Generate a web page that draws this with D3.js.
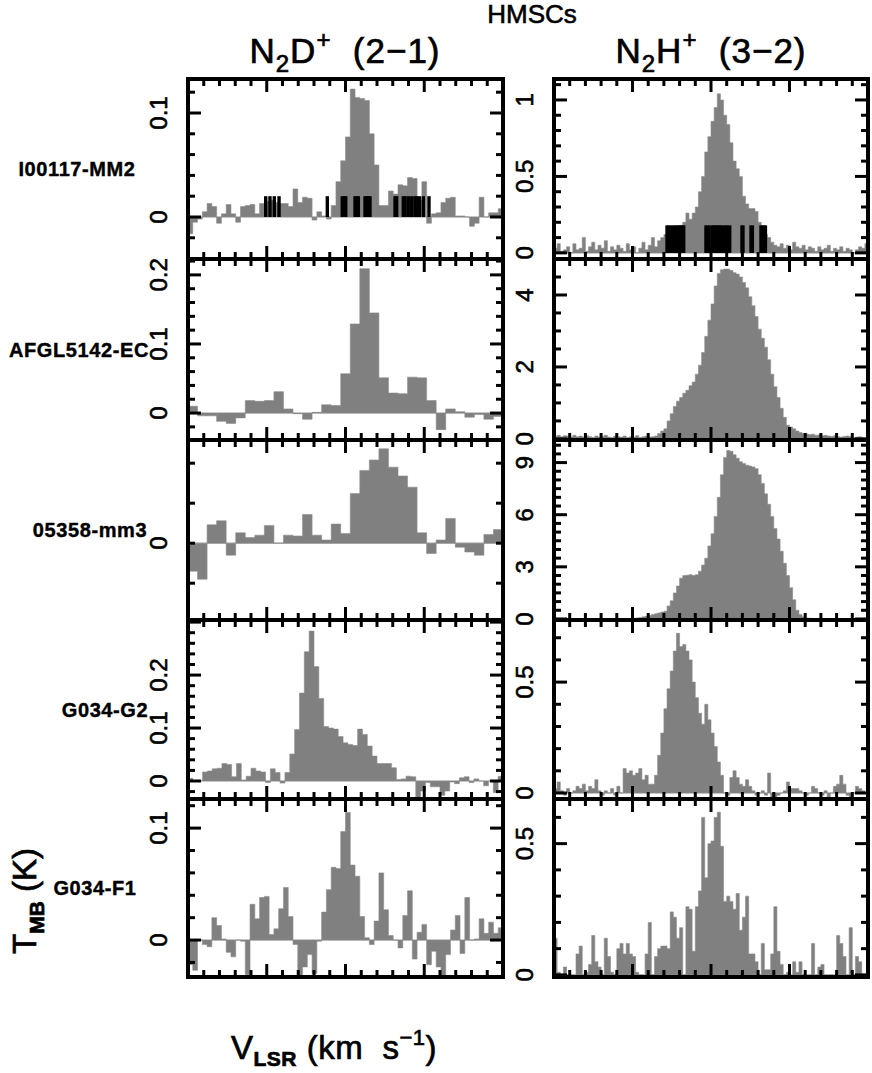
<!DOCTYPE html>
<html><head><meta charset="utf-8">
<script src="https://cdn.jsdelivr.net/npm/d3@7"></script>
<style>body{margin:0;background:#fff}svg{display:block}</style>
</head><body>
<svg id="c" width="872" height="1073"></svg>
<script>
// ---------- DATA ----------
const sources = ["I00117-MM2","AFGL5142-EC","05358-mm3","G034-G2","G034-F1"];
const velDomain = [-20, 20];

// N2D+ (2-1) spectra (K), channels span the full velocity window
const n2dI00117 = [-0.016,-0.005,-0.002,0.005,0.013,0.010,-0.006,0.003,0.012,0.003,-0.005,0.010,0.011,0.012,0.003,0.013,0.015,0.016,0.014,0.013,0.013,0.010,0.027,0.014,0.019,0.018,-0.003,0.005,0.001,-0.002,0.011,0.034,0.054,0.077,0.123,0.115,0.114,0.112,0.080,0.050,0.011,0.011,0.025,0.022,0.031,0.030,0.038,0.037,0.016,0.034,-0.006,0.003,0.004,0.014,0.018,0.019,0.001,0.001,0.000,-0.009,-0.006,0.019,0.000,0.004,0.004,0.008];
const n2dAFGL5142 = [0.010,-0.004,-0.004,-0.012,-0.015,-0.007,0.018,0.017,0.018,0.031,0.006,-0.001,-0.009,0.001,0.012,0.011,0.057,0.129,0.209,0.145,0.051,0.029,0.028,0.052,0.051,0.018,-0.024,0.006,0.002,-0.006,-0.002,-0.009,-0.005];
const n2d05358 = [-0.035,-0.045,0.023,0.028,-0.015,0.013,0.007,0.010,0.022,0.000,0.010,0.009,0.036,0.010,0.004,0.024,0.012,0.062,0.091,0.104,0.118,0.095,0.084,0.070,0.013,-0.013,0.004,0.031,-0.005,-0.011,-0.015,0.011,0.017];
const n2dG034G2 = [0.005,0.000,0.001,0.017,0.019,0.023,0.024,0.033,0.031,0.008,0.033,0.002,0.009,0.024,0.019,0.017,-0.003,0.023,0.016,-0.004,0.016,0.051,0.097,0.166,0.244,0.283,0.216,0.156,0.103,0.100,0.098,0.084,0.072,0.069,0.067,0.098,0.088,0.066,0.047,0.033,0.033,0.033,0.025,0.003,0.004,0.009,0.008,-0.038,-0.019,-0.003,-0.011,-0.011,-0.027,-0.019,-0.002,-0.005,0.006,0.008,-0.003,0.004,0.000,-0.009,0.000,-0.022,0.009];
const n2dG034F1 = [-0.022,-0.027,0.000,-0.004,-0.006,0.020,0.013,0.001,-0.011,-0.015,0.000,-0.001,-0.031,0.032,0.019,0.038,0.039,0.005,0.010,0.028,0.047,0.021,-0.004,-0.039,-0.024,-0.013,-0.030,-0.001,0.025,0.045,0.065,0.064,0.097,0.114,0.067,0.057,0.021,0.002,-0.004,0.017,0.060,0.027,0.004,0.000,-0.007,0.022,0.044,-0.017,0.007,0.014,-0.022,-0.010,-0.024,-0.039,-0.013,0.009,0.022,-0.012,0.038,0.000,0.001,0.019,0.006,0.016,0.006,0.011];

// N2H+ (3-2) spectra (K)
const n2hI00117 = [0.03,0.06,0.01,0.02,0.04,0.00,0.06,0.02,0.03,0.10,0.01,0.04,0.07,0.02,0.05,0.03,0.08,0.01,0.04,0.02,0.05,0.03,0.01,0.06,0.02,0.04,0.00,0.03,0.07,0.02,0.05,0.10,
  0.04,0.08,0.10,0.12,0.15,0.15,0.16,0.17,0.18,0.20,0.26,0.22,0.26,0.30,0.40,0.50,0.66,0.76,0.86,0.95,1.04,1.00,0.90,0.84,0.72,0.60,0.55,0.50,0.37,0.32,0.29,0.29,0.27,0.20,0.15,0.12,0.10,0.07,0.05,
  0.04,0.06,0.03,0.05,0.02,0.07,0.04,0.03,0.05,0.02,0.04,0.03,0.01,0.04,0.02,0.03,0.05,0.01,0.03,0.02,0.04,0.01,0.03,0.02,0.00,0.02,0.04,0.03,0.06];
const n2hAFGL5142 = [0.07,0.10,0.06,0.09,0.08,0.05,0.10,0.06,0.08,0.05,0.09,0.06,0.04,0.08,0.05,0.07,0.10,0.05,0.04,0.08,0.06,0.05,0.08,0.04,0.06,0.05,0.09,0.04,0.06,0.08,0.05,0.06,
  0.08,0.15,0.22,0.28,0.50,0.70,0.90,1.05,1.15,1.27,1.35,1.48,1.58,1.80,2.05,2.40,2.85,3.30,3.75,4.25,4.60,4.70,4.72,4.72,4.68,4.62,4.58,4.50,4.35,4.20,3.95,3.70,3.40,3.05,2.80,2.55,2.20,1.80,1.45,1.15,0.85,0.60,0.38,0.33,0.28,0.22,0.18,0.15,
  0.14,0.12,0.13,0.10,0.11,0.09,0.10,0.08,0.07,0.09,0.06,0.05,0.07,0.08,0.06,0.04,0.05,0.06,0.03,0.02];
const n2h05358 = [0.01,0.00,0.02,0.01,0.00,0.01,0.02,0.00,0.01,0.00,0.01,0.02,0.01,0.00,0.01,0.02,0.01,0.00,0.01,0.02,0.01,0.02,0.03,0.02,0.03,0.04,
  0.05,0.08,0.12,0.15,0.20,0.25,0.30,0.35,0.40,0.45,0.75,1.05,1.50,1.90,2.35,2.50,2.52,2.55,2.50,2.55,2.75,3.10,3.50,4.20,4.90,5.90,7.00,8.30,9.30,9.70,9.65,9.45,9.25,9.05,8.95,8.85,8.80,8.75,8.65,8.30,7.80,7.20,6.60,5.90,5.20,4.60,3.90,3.20,2.50,1.80,1.10,0.50,0.25,0.12,0.06,
  0.04,0.03,0.02,0.02,0.01,0.02,0.01,0.00,0.01,0.01,0.00,0.01,0.00,0.01,0.00,0.00,0.01,0.00,0.00];
const n2hG034G2 = [0.02,0.05,0.01,-0.01,0.02,0.00,0.01,0.03,0.02,0.04,0.01,0.03,0.02,0.06,0.01,-0.01,0.01,0.00,0.02,-0.01,0.03,0.00,
  0.11,0.09,0.10,0.08,0.09,0.11,0.06,0.08,0.04,0.04,0.08,0.17,0.27,0.38,0.47,0.55,0.64,0.72,0.66,0.67,0.64,0.60,0.50,0.43,0.36,0.31,0.40,0.33,0.27,0.21,0.14,0.08,0.00,-0.01,
  0.07,0.10,0.07,0.04,0.03,0.06,0.03,0.01,-0.01,0.00,0.01,-0.01,0.09,-0.02,-0.02,-0.01,0.00,0.01,0.05,0.02,0.02,0.02,0.01,0.00,-0.01,0.00,0.03,0.02,0.00,-0.01,0.01,-0.02,0.00,0.03,0.04,0.08,0.04,-0.01,-0.02,0.00,0.03,0.02,0.01,0.00];
const n2hG034F1 = [0.14,0.01,-0.02,0.03,-0.01,0.00,-0.01,0.08,0.11,0.00,0.01,0.04,0.15,0.05,0.03,0.00,0.14,0.07,0.01,0.00,0.10,0.12,0.08,0.12,0.08,0.07,0.01,0.00,-0.01,0.08,0.20,0.00,0.07,0.10,0.11,0.11,0.10,0.24,0.22,0.14,0.18,0.00,0.26,0.25,0.09,0.26,0.32,0.60,0.37,0.50,
  0.51,0.60,0.62,0.49,0.28,0.30,0.28,0.25,0.31,0.17,0.22,0.30,0.08,0.08,0.05,0.00,0.12,0.02,0.02,0.08,0.26,0.09,0.04,0.00,0.01,-0.02,0.05,0.01,0.05,0.00,-0.01,0.00,0.12,0.00,0.03,0.04,0.00,-0.01,0.00,-0.01,0.15,0.12,0.07,0.00,0.18,0.00,0.07,0.05,0.00,-0.02];

// hyperfine component markers (km/s) for I00117-MM2
const n2dHfs = [-10.13,-9.59,-9.04,-8.44,-2.31,-0.41,-0.15,0.03,1.21,1.42,1.63,2.48,2.69,2.90,3.11,6.29,6.50,7.34,7.56,7.97,8.41,8.83,9.04,9.37,9.88,10.6];
const n2hHfs = [-5.64,-5.44,-5.22,-4.93,-4.71,-4.50,-4.29,-4.08,-3.86,-3.66,-3.44,-0.68,-0.47,-0.22,0.09,0.29,0.51,0.73,0.93,1.15,1.36,1.69,1.91,2.13,2.42,3.91,4.11,5.06,5.31,6.33,6.54,6.75,6.97];

// ---------- LAYOUT ----------
const FONT = "'Liberation Sans', Arial, Helvetica, sans-serif";
const cols = [{x0:188, x1:503}, {x0:554, x1:868}];
const rowTops = [79, 259, 440, 620, 799, 977];

const panels = [
  {row:0,col:0,data:n2dI00117,  y:[-0.0404,0.1327], major:0.1, minor:0.02, marks:n2dHfs, markH:0.02, markW:3.4},
  {row:1,col:0,data:n2dAFGL5142,y:[-0.039,0.223],   major:0.1, minor:0.02},
  {row:2,col:0,data:n2d05358,   y:[-0.096,0.129],   major:0.25,minor:0.05, majorLen:7},
  {row:3,col:0,data:n2dG034G2,  y:[-0.034,0.304],   major:0.1, minor:0.02},
  {row:4,col:0,data:n2dG034F1,  y:[-0.033,0.126],   major:0.1, minor:0.02},
  {row:0,col:1,data:n2hI00117,  y:[-0.04,1.137],    major:0.5, minor:0.1, marks:n2hHfs, markH:0.18, markW:2.8},
  {row:1,col:1,data:n2hAFGL5142,y:[-0.03,5.0],      major:2,   minor:0.5},
  {row:2,col:1,data:n2h05358,   y:[-0.06,10.3],     major:3,   minor:0.5},
  {row:3,col:1,data:n2hG034G2,  y:[-0.027,0.78],    major:0.5, minor:0.1},
  {row:4,col:1,data:n2hG034F1,  y:[-0.008,0.67],    major:0.5, minor:0.1}
];

const svg = d3.select("#c");
const defs = svg.append("defs");
const MAJ = 13, MIN = 7;

panels.forEach((p, idx) => {
  const x0 = cols[p.col].x0, x1 = cols[p.col].x1;
  const yT = rowTops[p.row], yB = rowTops[p.row + 1];
  const xv = d3.scaleLinear().domain(velDomain).range([x0, x1]);
  const xb = d3.scaleBand().domain(d3.range(p.data.length)).range([x0, x1]).padding(0);
  const y = d3.scaleLinear().domain(p.y).range([yB, yT]);
  const g = svg.append("g");

  defs.append("clipPath").attr("id", "cp" + idx).append("rect")
    .attr("x", x0).attr("y", yT).attr("width", x1 - x0).attr("height", yB - yT);
  const inner = g.append("g").attr("clip-path", `url(#cp${idx})`);

  inner.append("line").attr("x1", x0).attr("x2", x1).attr("y1", y(0)).attr("y2", y(0))
    .attr("stroke", "#bdbdbd").attr("stroke-width", 1.2);

  const pts = [];
  p.data.forEach((v, i) => { pts.push([xb(i), v]); pts.push([xb(i) + xb.bandwidth(), v]); });
  const area = d3.area().x(d => d[0]).y0(y(0)).y1(d => y(d[1]));
  inner.append("path").attr("d", area(pts)).attr("fill", "#808080")
    .attr("stroke", "#8c8c8c").attr("stroke-width", 0.6);

  if (p.marks) {
    inner.selectAll("line.m").data(p.marks).enter().append("line")
      .attr("x1", d => xv(d)).attr("x2", d => xv(d))
      .attr("y1", y(0)).attr("y2", y(p.markH))
      .attr("stroke", "#000").attr("stroke-width", p.markW);
  }

  // velocity ticks (top & bottom)
  const vt = xv.ticks(20).filter(v => v > velDomain[0] && v < velDomain[1]);
  vt.forEach(v => {
    const L = (Math.abs(v % 10) < 1e-9) ? MAJ : MIN;
    const X = xv(v);
    g.append("line").attr("x1", X).attr("x2", X).attr("y1", yT).attr("y2", yT + L)
      .attr("stroke", "#000").attr("stroke-width", 3);
    g.append("line").attr("x1", X).attr("x2", X).attr("y1", yB).attr("y2", yB - L)
      .attr("stroke", "#000").attr("stroke-width", 3);
  });

  // intensity ticks (left & right)
  const kMin = Math.ceil(p.y[0] / p.minor - 1e-9), kMax = Math.floor(p.y[1] / p.minor + 1e-9);
  for (let k = kMin; k <= kMax; k++) {
    const v = +(k * p.minor).toFixed(6);
    const r = v / p.major;
    const isMaj = Math.abs(r - Math.round(r)) < 1e-6;
    const L = isMaj ? (p.majorLen || MAJ) : MIN;
    const Y = y(v);
    g.append("line").attr("x1", x0).attr("x2", x0 + L).attr("y1", Y).attr("y2", Y)
      .attr("stroke", "#000").attr("stroke-width", 3);
    g.append("line").attr("x1", x1).attr("x2", x1 - L).attr("y1", Y).attr("y2", Y)
      .attr("stroke", "#000").attr("stroke-width", 3);
    if (isMaj && Y - yT > 8) {
      g.append("text").attr("transform", `translate(${x0 - 21},${Y}) rotate(-90)`)
        .attr("text-anchor", "middle").attr("font-family", FONT).attr("font-size", 24)
        .attr("stroke", "#000").attr("stroke-width", 0.6)
        .text(String(+v.toFixed(2)));
    }
  }

  g.append("rect").attr("x", x0).attr("y", yT).attr("width", x1 - x0).attr("height", yB - yT)
    .attr("fill", "none").attr("stroke", "#000").attr("stroke-width", 4);
});

// source labels
const labelX = [77, 79, 90, 105, 95];
sources.forEach((s, i) => {
  svg.append("text").attr("x", labelX[i]).attr("y", (rowTops[i] + rowTops[i + 1]) / 2 + 7)
    .attr("text-anchor", "middle").attr("font-family", FONT).attr("font-weight", "bold")
    .attr("font-size", 20).attr("letter-spacing", 0.6)
    .attr("stroke", "#000").attr("stroke-width", 0.4).text(s);
});

// titles
svg.append("text").attr("x", 532).attr("y", 23).attr("text-anchor", "middle")
  .attr("font-family", FONT).attr("font-size", 26)
  .attr("stroke", "#000").attr("stroke-width", 0.6).text("HMSCs");

function molTitle(cx, mol2, trans) {
  const t = svg.append("text").attr("x", cx).attr("y", 63).attr("text-anchor", "middle")
    .attr("font-family", FONT).attr("font-size", 35).attr("letter-spacing", 1)
    .attr("stroke", "#000").attr("stroke-width", 0.7);
  t.append("tspan").text("N");
  t.append("tspan").attr("dy", 9).attr("font-size", 24).text("2");
  t.append("tspan").attr("dy", -9).text(mol2);
  t.append("tspan").attr("dy", -15).attr("font-size", 24).text("+");
  t.append("tspan").attr("dy", 15).text("\u00A0\u00A0(" + trans + ")");
}
molTitle(345, "D", "2\u22121");
molTitle(711, "H", "3\u22122");

// axis titles
const yt = svg.append("text").attr("transform", "translate(36,901) rotate(-90)")
  .attr("text-anchor", "middle").attr("font-family", FONT).attr("font-size", 33)
  .attr("stroke", "#000").attr("stroke-width", 0.7);
yt.append("tspan").text("T");
yt.append("tspan").attr("dy", 8).attr("font-size", 21).attr("font-weight", "bold").text("MB");
yt.append("tspan").attr("dy", -8).text("\u00A0(K)");

const xt = svg.append("text").attr("x", 334).attr("y", 1059).attr("text-anchor", "middle")
  .attr("font-family", FONT).attr("font-size", 33).attr("letter-spacing", 0.5)
  .attr("stroke", "#000").attr("stroke-width", 0.7);
xt.append("tspan").text("V");
xt.append("tspan").attr("dy", 7).attr("font-size", 21).attr("font-weight", "bold").text("LSR");
xt.append("tspan").attr("dy", -7).text("\u00A0(km\u00A0\u00A0s");
xt.append("tspan").attr("dy", -14).attr("font-size", 22).text("\u22121");
xt.append("tspan").attr("dy", 14).text(")");
</script>
</body></html>
